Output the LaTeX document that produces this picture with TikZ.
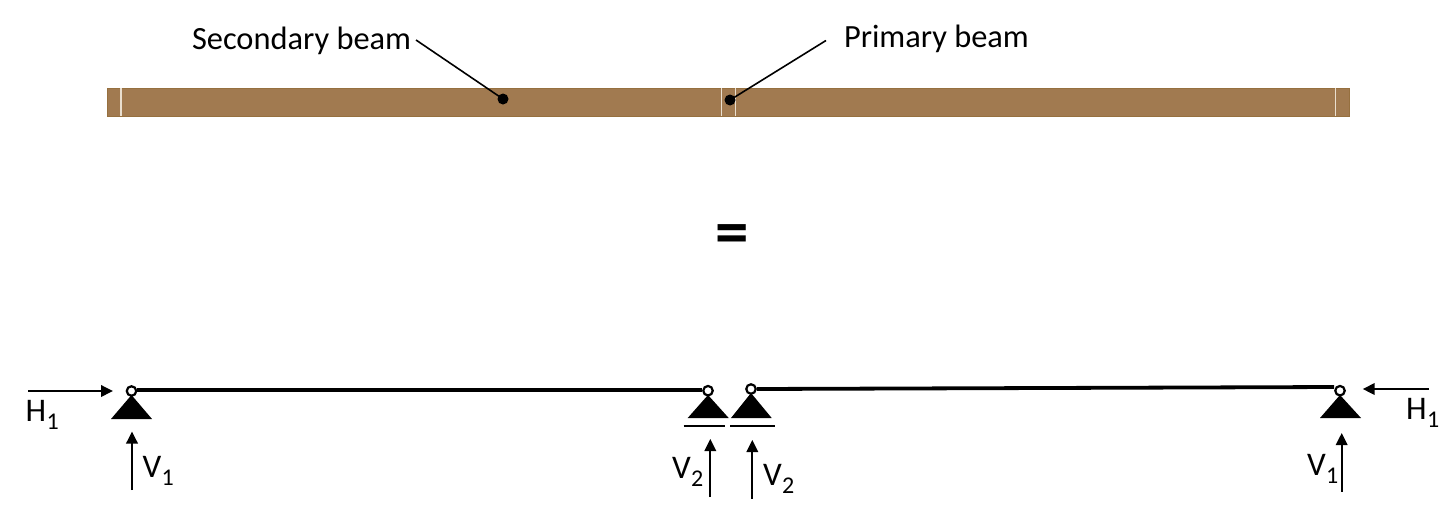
\documentclass[tikz,border=0pt]{standalone}
\usepackage{fontspec}
\setmainfont{Carlito}
\usetikzlibrary{arrows.meta}
\definecolor{beamfill}{HTML}{A17A50}
\definecolor{beamedge}{HTML}{96703F}
\definecolor{beamgap}{HTML}{EADFCF}
\newcommand{\lbl}[2]{\fontsize{33}{33}\selectfont #1\kern0.5pt\raisebox{-8pt}{\fontsize{24}{24}\selectfont #2}}
\tikzset{
  x=1pt,y=-1pt,
  lab/.style={anchor=base west,inner sep=0pt,outer sep=0pt,font=\fontsize{32.4}{33}\selectfont},
  sym/.style={anchor=base west,inner sep=0pt,outer sep=0pt},
  pin/.style={circle,draw=black,fill=white,line width=2.2pt,inner sep=0pt,minimum size=9.5pt},
  dot/.style={circle,fill=black,inner sep=0pt,minimum size=11pt},
  beamrect/.style={draw=beamedge,line width=0.6pt,fill=beamfill,inner sep=0pt,outer sep=0pt,minimum width=1242pt,minimum height=28pt},
  gap/.style={draw=beamgap,line width=1.8pt},
  leader/.style={draw=black,line width=1.6pt},
  member/.style={draw=black,line width=3.8pt},
  force/.style={draw=black,line width=1.9pt,-{Triangle[length=12pt,width=11.5pt]}},
  ground/.style={draw=black,line width=1.9pt},
}
\begin{document}
\begin{tikzpicture}
\useasboundingbox (0,0) rectangle (1456,517);
% beam
\node[beamrect] (beam) at (728.5,102) {};
\foreach \gx in {121,721.5,735.5,1335.5}{
  \draw[gap] (\gx,88.3) -- (\gx,115.7);
}
% labels and leaders
\node[lab] (sec) at (192,49) {Secondary beam};
\node[lab] (pri) at (844,47) {Primary beam};
\node[dot] (d1) at (503,99) {};
\node[dot] (d2) at (730,100) {};
\coordinate (s1) at (416,40);
\coordinate (s2) at (826,40.5);
\draw[leader] (s1) -- (d1.center);
\draw[leader] (s2) -- (d2.center);
% equals
\node[sym,font=\fontsize{67}{67}\selectfont\bfseries] (eq) at (715.5,254.5) {=};
% supports
\fill (131.5,395) -- (152,419) -- (111,419) -- cycle;
\fill (708,395) -- (728.7,418) -- (687.7,418) -- cycle;
\fill (751,393) -- (771.7,418) -- (731,418) -- cycle;
\fill (1340,395) -- (1361,418) -- (1320,418) -- cycle;
% pins and members
\node[pin] (p1) at (131.5,391) {};
\node[pin] (p2) at (708,390.7) {};
\node[pin] (p3) at (751,389) {};
\node[pin] (p4) at (1340,390.7) {};
\draw[member] (p1.east |- 0,390) -- (p2.west |- 0,390);
\draw[member] (p3.east) -- (p4.west |- 0,387);
% ground lines
\coordinate (g1a) at (683.7,426); \coordinate (g1b) at (724.7,426);
\coordinate (g2a) at (730,426); \coordinate (g2b) at (775,426);
\draw[ground] (g1a) -- (g1b);
\draw[ground] (g2a) -- (g2b);
% forces
\coordinate (h1s) at (28,391); \coordinate (h1e) at (113,391);
\coordinate (h2s) at (1429,389); \coordinate (h2e) at (1362.7,389);
\coordinate (v1s) at (132,490); \coordinate (v1e) at (132,431.5);
\coordinate (v2s) at (710.3,497); \coordinate (v2e) at (710.3,439);
\coordinate (v3s) at (752.3,498.5); \coordinate (v3e) at (752.3,440);
\coordinate (v4s) at (1341.7,491.5); \coordinate (v4e) at (1341.7,433);
\draw[force] (h1s) -- (h1e);
\draw[force] (h2s) -- (h2e);
\draw[force] (v1s) -- (v1e);
\draw[force] (v2s) -- (v2e);
\draw[force] (v3s) -- (v3e);
\draw[force] (v4s) -- (v4e);
% force labels
\node[sym] (lh1) at (25.5,421) {\lbl{H}{1}};
\node[sym] (lh2) at (1406,419.5) {\lbl{H}{1}};
\node[sym] (lv1) at (142.5,477) {\lbl{V}{1}};
\node[sym] (lv2) at (672,478) {\lbl{V}{2}};
\node[sym] (lv3) at (763,485) {\lbl{V}{2}};
\node[sym] (lv4) at (1307,475.5) {\lbl{V}{1}};
\end{tikzpicture}
\end{document}
